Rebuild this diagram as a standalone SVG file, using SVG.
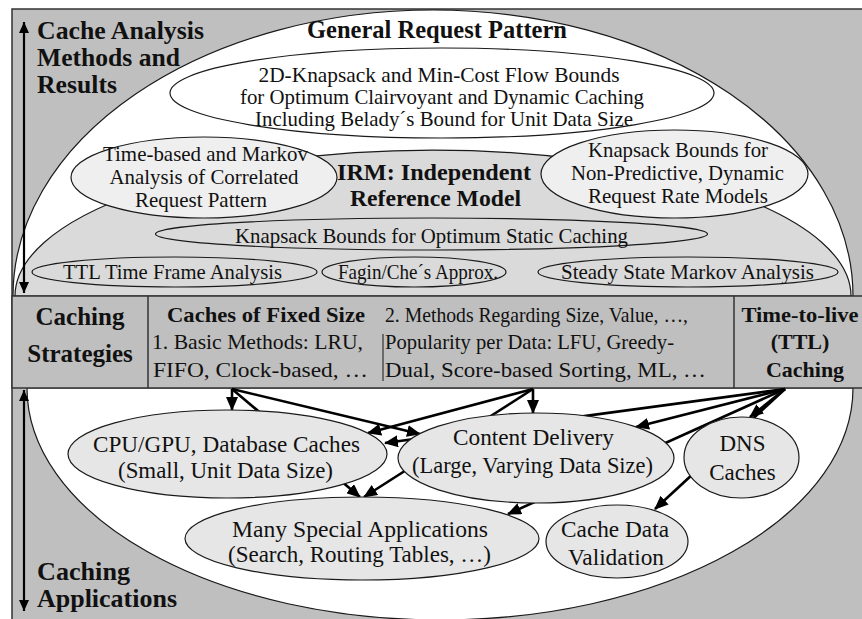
<svg xmlns="http://www.w3.org/2000/svg" width="862" height="619" viewBox="0 0 862 619">
<style>
svg text.dgm-txt{fill:#111;font-family:'Liberation Serif',serif}
svg text.dgm-reg{font-size:21px}
svg text.dgm-node{font-size:23px}
svg text.dgm-bold{font-weight:bold}
svg text.dgm-mid{text-anchor:middle}
.dgm-shape{stroke:#1a1a1a;stroke-width:1.2}
.dgm-conn{stroke:#000;stroke-width:2.6;fill:none;marker-end:url(#ah)}
.dgm-axis{stroke:#000;stroke-width:2.2;fill:none;marker-start:url(#sa);marker-end:url(#sa)}
</style>
<defs>
<marker id="ah" markerUnits="userSpaceOnUse" markerWidth="14" markerHeight="12" refX="13" refY="6" orient="auto"><path d="M0,0 L14,6 L0,12 z" fill="#000"/></marker>
<marker id="sa" markerUnits="userSpaceOnUse" markerWidth="11" markerHeight="10" refX="11" refY="5" orient="auto-start-reverse"><path d="M0,0 L11,5 L0,10 z" fill="#000"/></marker>
</defs>

<rect x="0" y="0" width="862" height="619" fill="#fff"/>
<g id="frame">
<rect x="12" y="9" width="860" height="620" fill="#bfbfbf" stroke="#333" stroke-width="1.5"/>
</g>

<g id="caching-applications-area">
<path class="dgm-shape" d="M27,388 A413,232 0 0 0 853,388 Z" fill="#fff"/>
</g>

<g id="general-request-pattern">
<path class="dgm-shape" d="M13,296 A420,286 0 0 1 853,296 Z" fill="#fff"/>
<text style="font-family:'Liberation Serif'" class="dgm-txt dgm-bold dgm-mid" x="437" y="38" font-size="24.5" textLength="260" lengthAdjust="spacingAndGlyphs">General Request Pattern</text>
</g>

<g id="knapsack-2d">
<ellipse class="dgm-shape" cx="442" cy="93" rx="272" ry="45" fill="#fff"/>
<text style="font-family:'Liberation Serif'" class="dgm-txt dgm-reg dgm-mid" x="439" y="82" textLength="361" lengthAdjust="spacingAndGlyphs">2D-Knapsack and Min-Cost Flow Bounds</text>
<text style="font-family:'Liberation Serif'" class="dgm-txt dgm-reg dgm-mid" x="442" y="104" textLength="404" lengthAdjust="spacingAndGlyphs">for Optimum Clairvoyant and Dynamic Caching</text>
<text style="font-family:'Liberation Serif'" class="dgm-txt dgm-reg dgm-mid" x="444" y="126" textLength="378" lengthAdjust="spacingAndGlyphs">Including Belady´s Bound for Unit Data Size</text>
</g>

<g id="irm">
<path class="dgm-shape" d="M15,296 A418,146 0 0 1 851,296 Z" fill="#dadada"/>
<text style="font-family:'Liberation Serif'" class="dgm-txt dgm-bold dgm-mid" x="434" y="180" font-size="24" textLength="194" lengthAdjust="spacingAndGlyphs">IRM: Independent</text>
<text style="font-family:'Liberation Serif'" class="dgm-txt dgm-bold dgm-mid" x="435.5" y="206" font-size="24" textLength="171" lengthAdjust="spacingAndGlyphs">Reference Model</text>
</g>

<g id="time-based-markov">
<ellipse class="dgm-shape" cx="204" cy="177.5" rx="133" ry="40.5" fill="#efefef"/>
<text style="font-family:'Liberation Serif'" class="dgm-txt dgm-reg dgm-mid" x="205.5" y="161" textLength="205" lengthAdjust="spacingAndGlyphs">Time-based and Markov</text>
<text style="font-family:'Liberation Serif'" class="dgm-txt dgm-reg dgm-mid" x="204" y="184" textLength="189" lengthAdjust="spacingAndGlyphs">Analysis of Correlated</text>
<text style="font-family:'Liberation Serif'" class="dgm-txt dgm-reg dgm-mid" x="201" y="207" textLength="132" lengthAdjust="spacingAndGlyphs">Request Pattern</text>
</g>

<g id="knapsack-nonpredictive">
<ellipse class="dgm-shape" cx="674.5" cy="174" rx="133.5" ry="44" fill="#efefef"/>
<text style="font-family:'Liberation Serif'" class="dgm-txt dgm-reg dgm-mid" x="678" y="157" textLength="180" lengthAdjust="spacingAndGlyphs">Knapsack Bounds for</text>
<text style="font-family:'Liberation Serif'" class="dgm-txt dgm-reg dgm-mid" x="677.5" y="180" textLength="213" lengthAdjust="spacingAndGlyphs">Non-Predictive, Dynamic</text>
<text style="font-family:'Liberation Serif'" class="dgm-txt dgm-reg dgm-mid" x="678" y="203" textLength="180" lengthAdjust="spacingAndGlyphs">Request Rate Models</text>
</g>

<g id="knapsack-static">
<ellipse class="dgm-shape" cx="431.5" cy="234" rx="276" ry="16" fill="#dadada"/>
<text style="font-family:'Liberation Serif'" class="dgm-txt dgm-reg dgm-mid" x="431.5" y="243" textLength="393" lengthAdjust="spacingAndGlyphs">Knapsack Bounds for Optimum Static Caching</text>
</g>

<g id="ttl-time-frame">
<ellipse class="dgm-shape" cx="174.5" cy="272" rx="142.5" ry="15" fill="#dadada"/>
<text style="font-family:'Liberation Serif'" class="dgm-txt dgm-reg dgm-mid" x="172.5" y="279" textLength="219" lengthAdjust="spacingAndGlyphs">TTL Time Frame Analysis</text>
</g>

<g id="fagin-che">
<ellipse class="dgm-shape" cx="414" cy="272" rx="92" ry="15" fill="#dadada"/>
<text style="font-family:'Liberation Serif'" class="dgm-txt dgm-reg dgm-mid" x="418" y="279" textLength="160" lengthAdjust="spacingAndGlyphs">Fagin/Che´s Approx.</text>
</g>

<g id="steady-state-markov">
<ellipse class="dgm-shape" cx="688" cy="272" rx="150" ry="15" fill="#dadada"/>
<text style="font-family:'Liberation Serif'" class="dgm-txt dgm-reg dgm-mid" x="687.5" y="279" textLength="253" lengthAdjust="spacingAndGlyphs">Steady State Markov Analysis</text>
</g>

<g id="analysis-label">
<line class="dgm-axis" x1="24" y1="22" x2="24" y2="293"/>
<text style="font-family:'Liberation Serif'" class="dgm-txt dgm-bold" x="37" y="39" font-size="25.5" textLength="167" lengthAdjust="spacingAndGlyphs">Cache Analysis</text>
<text style="font-family:'Liberation Serif'" class="dgm-txt dgm-bold" x="37" y="66" font-size="25.5" textLength="143" lengthAdjust="spacingAndGlyphs">Methods and</text>
<text style="font-family:'Liberation Serif'" class="dgm-txt dgm-bold" x="37" y="93" font-size="25.5" textLength="80" lengthAdjust="spacingAndGlyphs">Results</text>
</g>

<g id="caching-strategies">
<rect x="12" y="296" width="860" height="92" fill="#bfbfbf" stroke="#333" stroke-width="1.5"/>
<line x1="148" y1="296" x2="148" y2="388" stroke="#333" stroke-width="1.5"/>
<line x1="734" y1="296" x2="734" y2="388" stroke="#333" stroke-width="1.5"/>
<text style="font-family:'Liberation Serif'" class="dgm-txt dgm-bold dgm-mid" x="80" y="325" font-size="25">Caching</text>
<text style="font-family:'Liberation Serif'" class="dgm-txt dgm-bold dgm-mid" x="80" y="362" font-size="25">Strategies</text>
</g>

<g id="fixed-size-caches">
<line x1="383" y1="334" x2="383" y2="381" stroke="#333" stroke-width="1.2"/>
<text style="font-family:'Liberation Serif'" class="dgm-txt dgm-bold dgm-mid" x="266" y="322" font-size="22" textLength="198" lengthAdjust="spacingAndGlyphs">Caches of Fixed Size</text>
<text style="font-family:'Liberation Serif'" class="dgm-txt" x="152" y="349" font-size="21.5" textLength="211" lengthAdjust="spacingAndGlyphs">1. Basic Methods: LRU,</text>
<text style="font-family:'Liberation Serif'" class="dgm-txt" x="153" y="377" font-size="21.5" textLength="215" lengthAdjust="spacingAndGlyphs">FIFO, Clock-based, …</text>
<text style="font-family:'Liberation Serif'" class="dgm-txt" x="385" y="322" font-size="21.5" textLength="303" lengthAdjust="spacingAndGlyphs">2. Methods Regarding Size, Value, …,</text>
<text style="font-family:'Liberation Serif'" class="dgm-txt" x="385" y="349" font-size="21.5" textLength="289" lengthAdjust="spacingAndGlyphs">Popularity per Data: LFU, Greedy-</text>
<text style="font-family:'Liberation Serif'" class="dgm-txt" x="385" y="377" font-size="21.5" textLength="321" lengthAdjust="spacingAndGlyphs">Dual, Score-based Sorting, ML, …</text>
</g>

<g id="ttl-caching">
<text style="font-family:'Liberation Serif'" class="dgm-txt dgm-bold dgm-mid" x="800" y="322" font-size="22" textLength="117" lengthAdjust="spacingAndGlyphs">Time-to-live</text>
<text style="font-family:'Liberation Serif'" class="dgm-txt dgm-bold dgm-mid" x="800" y="349" font-size="22">(TTL)</text>
<text style="font-family:'Liberation Serif'" class="dgm-txt dgm-bold dgm-mid" x="805" y="377" font-size="22">Caching</text>
</g>

<g id="connectors">
<line class="dgm-conn" x1="232" y1="389" x2="232" y2="410"/>
<line class="dgm-conn" x1="232" y1="389" x2="420" y2="434"/>
<line class="dgm-conn" x1="232" y1="389" x2="360" y2="497"/>
<line class="dgm-conn" x1="533" y1="389" x2="533" y2="413"/>
<line class="dgm-conn" x1="533" y1="389" x2="368" y2="433"/>
<line class="dgm-conn" x1="533" y1="389" x2="364" y2="497"/>
<line class="dgm-conn" x1="785" y1="389" x2="385" y2="443"/>
<line class="dgm-conn" x1="785" y1="389" x2="636" y2="427"/>
<line class="dgm-conn" x1="785" y1="389" x2="508" y2="514"/>
<line class="dgm-conn" x1="785" y1="389" x2="750" y2="417"/>
<line class="dgm-conn" x1="785" y1="389" x2="655" y2="509"/>
</g>

<g id="cpu-gpu-caches">
<ellipse class="dgm-shape" cx="227.5" cy="454" rx="159.5" ry="44" fill="#e6e6e6"/>
<text style="font-family:'Liberation Serif'" class="dgm-txt dgm-node dgm-mid" x="226.5" y="452" textLength="267" lengthAdjust="spacingAndGlyphs">CPU/GPU, Database Caches</text>
<text style="font-family:'Liberation Serif'" class="dgm-txt dgm-node dgm-mid" x="225.5" y="478" textLength="215" lengthAdjust="spacingAndGlyphs">(Small, Unit Data Size)</text>
</g>

<g id="content-delivery">
<ellipse class="dgm-shape" cx="536" cy="458" rx="138" ry="45" fill="#e6e6e6"/>
<text style="font-family:'Liberation Serif'" class="dgm-txt dgm-node dgm-mid" x="533.5" y="445" textLength="161" lengthAdjust="spacingAndGlyphs">Content Delivery</text>
<text style="font-family:'Liberation Serif'" class="dgm-txt dgm-node dgm-mid" x="532.5" y="473" textLength="241" lengthAdjust="spacingAndGlyphs">(Large, Varying Data Size)</text>
</g>

<g id="dns-caches">
<ellipse class="dgm-shape" cx="741.5" cy="457.5" rx="57.5" ry="40.5" fill="#e6e6e6"/>
<text style="font-family:'Liberation Serif'" class="dgm-txt dgm-node dgm-mid" x="742.5" y="451">DNS</text>
<text style="font-family:'Liberation Serif'" class="dgm-txt dgm-node dgm-mid" x="742.5" y="480">Caches</text>
</g>

<g id="many-special-applications">
<ellipse class="dgm-shape" cx="362" cy="538.5" rx="177" ry="41.5" fill="#e6e6e6"/>
<text style="font-family:'Liberation Serif'" class="dgm-txt dgm-node dgm-mid" x="360" y="537" textLength="256" lengthAdjust="spacingAndGlyphs">Many Special Applications</text>
<text style="font-family:'Liberation Serif'" class="dgm-txt dgm-node dgm-mid" x="359.5" y="562" textLength="263" lengthAdjust="spacingAndGlyphs">(Search, Routing Tables, …)</text>
</g>

<g id="cache-data-validation">
<ellipse class="dgm-shape" cx="617" cy="541.5" rx="71" ry="36.5" fill="#e6e6e6"/>
<text style="font-family:'Liberation Serif'" class="dgm-txt dgm-node dgm-mid" x="615" y="537" textLength="108" lengthAdjust="spacingAndGlyphs">Cache Data</text>
<text style="font-family:'Liberation Serif'" class="dgm-txt dgm-node dgm-mid" x="616" y="565" textLength="96" lengthAdjust="spacingAndGlyphs">Validation</text>
</g>

<g id="applications-label">
<line class="dgm-axis" x1="24" y1="390" x2="24" y2="611"/>
<text style="font-family:'Liberation Serif'" class="dgm-txt dgm-bold" x="37" y="580" font-size="25" textLength="93" lengthAdjust="spacingAndGlyphs">Caching</text>
<text style="font-family:'Liberation Serif'" class="dgm-txt dgm-bold" x="37" y="607" font-size="25" textLength="140" lengthAdjust="spacingAndGlyphs">Applications</text>
</g>
</svg>
